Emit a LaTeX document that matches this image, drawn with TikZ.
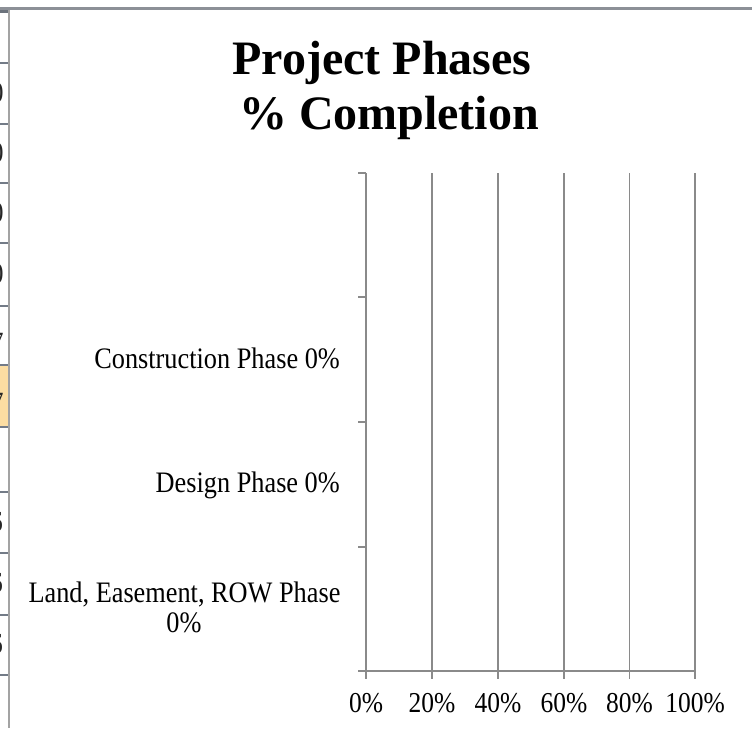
\documentclass[tikz,border=0pt]{standalone}
\usepackage{fontspec}
\setmainfont{Liberation Serif}
\usepackage{graphicx}
\newcommand{\vst}[1]{\scalebox{1}[1.13]{#1}}
\definecolor{gridgray}{HTML}{8A8A8A}
\definecolor{cellline}{HTML}{737B87}
\definecolor{frameline}{HTML}{A3A3A3}
\definecolor{topline}{HTML}{8C9097}
\definecolor{cellorange}{HTML}{FCDDA2}
\definecolor{cornerdark}{HTML}{6B727C}
\begin{document}
\begin{tikzpicture}[x=1pt,y=-1pt,
  gridln/.style={draw=gridgray,line width=1.8pt},
  lbl/.style={font=\fontsize{26.3}{30}\selectfont,inner sep=0pt},
  axlbl/.style={font=\fontsize{25.5}{30}\selectfont,inner sep=0pt,anchor=base},
  ttl/.style={font=\fontsize{48}{55}\selectfont\bfseries,inner sep=0pt,anchor=base},
  cellchar/.style={font=\fontsize{26}{30}\selectfont,inner sep=0pt,anchor=east,text=black!85}]
\useasboundingbox (0,0) rectangle (752,728);
\fill[white] (0,0) rectangle (752,728);
% spreadsheet strip at left
\fill[cellorange] (0,365) rectangle (8,427);
\begin{scope}
  \clip (0,10) rectangle (8,728);
  \foreach \y/\c/\n in {93/0/a,153/0/b,213/0/c,274/0/d,343/7/e,403/7/f}
    \node[cellchar] (cell\n) at (3.8,\y) {\vst{\c}};
  \foreach \y/\n in {522/g,583/h,644/i}
    \node[cellchar] (cell\n) at (3.0,\y) {\vst{6}};
\end{scope}
\foreach \y in {63,124,183,243,306,365,427,492,553,615,675}
  \draw[cellline,line width=2pt] (0,\y) -- (8,\y);
\fill[cornerdark] (0,8) rectangle (8,13);
\draw[frameline,line width=1.6pt] (9,9) -- (9,728);
\draw[topline,line width=3pt] (0,8.5) -- (752,8.5);
% title
\node[ttl] (t1) at (382,74) {Project Phases};
\node[ttl] (t2) at (389,129) {\% Completion};
% gridlines
\foreach \x in {432,498,564,629.5,695}
  \draw[gridln] (\x,173) -- (\x,679);
% axes
\draw[gridln] (366,173) -- (366,679);
\draw[gridln] (358,671) -- (695,671);
\foreach \y in {173,297,422,547}
  \draw[gridln] (358,\y) -- (366,\y);
% category labels
\node[lbl,anchor=base east] (c1) at (340,368) {\vst{Construction Phase 0\%}};
\node[lbl,anchor=base east] (c2) at (340,492) {\vst{Design Phase 0\%}};
\node[lbl,anchor=base] (c3a) at (184.5,602) {\vst{Land, Easement, ROW Phase}};
\node[lbl,anchor=base] (c3b) at (184,632) {\vst{0\%}};
% axis labels
\foreach \x/\t/\n in {366/0/a,432/20/b,498/40/c,564/60/d,629.5/80/e,695/100/f}
  \node[axlbl] (ax\n) at (\x,712) {\vst{\t\%}};
\end{tikzpicture}
\end{document}
